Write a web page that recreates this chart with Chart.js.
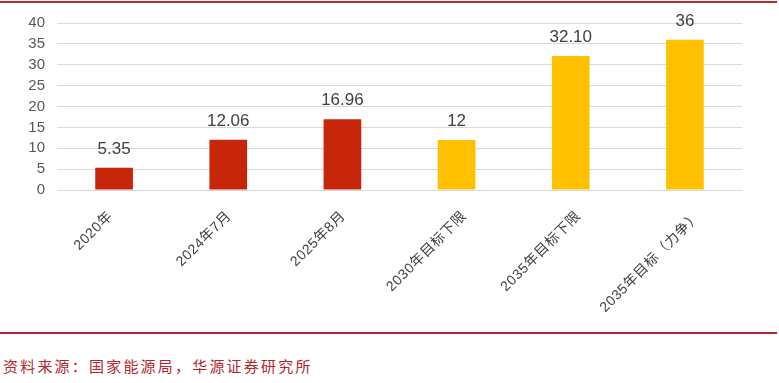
<!DOCTYPE html>
<html><head><meta charset="utf-8">
<script src="https://cdn.jsdelivr.net/npm/chart.js@4/dist/chart.umd.min.js"></script>
<style>
html,body{margin:0;padding:0;background:#fff;width:779px;height:383px;overflow:hidden;}
#wrap{position:absolute;left:0;top:0;width:779px;height:330px;}
#topline{position:absolute;left:0;top:1px;width:777px;height:2px;background:#b5252b;}
#botline{position:absolute;left:0;top:332px;width:777px;height:2px;background:#b5252b;}
#src{position:absolute;left:3px;top:355px;font-family:"Noto Sans CJK SC";font-size:15px;color:#b5252b;letter-spacing:2.2px;}
</style></head>
<body>
<div id="topline"></div>
<div id="wrap"><canvas id="c" width="779" height="330"></canvas></div>
<div id="botline"></div>
<div id="src">资料来源：国家能源局，华源证券研究所</div>
<script>
const categories = ["2020年","2024年7月","2025年8月","2030年目标下限","2035年目标下限","2035年目标（力争）"];
const values = [5.35, 12.06, 16.96, 12, 32.10, 36];
const valueLabels = ["5.35","12.06","16.96","12","32.10","36"];
const barColors = ["#c8260a","#c8260a","#c8260a","#ffc000","#ffc000","#ffc000"];
const yTicks = [0,5,10,15,20,25,30,35,40];

const dataLabelPlugin = {
  id:'dl',
  afterDatasetsDraw(chart){
    const ctx = chart.ctx;
    const meta = chart.getDatasetMeta(0);
    ctx.save();
    ctx.font = '17px "Liberation Sans", Arial, sans-serif';
    ctx.fillStyle = '#404040';
    ctx.textAlign = 'center';
    ctx.textBaseline = 'alphabetic';
    meta.data.forEach((bar,i)=>{
      ctx.fillText(valueLabels[i], bar.x, bar.y - 14);
    });
    ctx.restore();
  }
};

const xLabelPlugin = {
  id:'xl',
  afterDraw(chart){
    const ctx = chart.ctx;
    const xs = chart.scales.x;
    const baseY = chart.chartArea.bottom + 24;
    ctx.save();
    ctx.font = '14px "Liberation Sans","Noto Sans CJK SC",sans-serif';
    try{ ctx.letterSpacing = '0.6px'; }catch(e){}
    ctx.fillStyle = '#404040';
    ctx.textAlign = 'right';
    ctx.textBaseline = 'middle';
    categories.forEach((lab,i)=>{
      const cx = xs.getPixelForTick(i);
      const w = ctx.measureText(lab).width;
      const ax = cx + 0.196*w - 13;
      ctx.save();
      ctx.translate(ax, baseY);
      ctx.rotate(-Math.PI/4);
      ctx.fillText(lab, 0, 0);
      ctx.restore();
    });
    ctx.restore();
  }
};

new Chart(document.getElementById('c'), {
  type:'bar',
  data:{labels:categories, datasets:[{data:values, backgroundColor:barColors, categoryPercentage:1, barPercentage:0.33}]},
  options:{
    responsive:false, animation:false,
    layout:{padding:{top:23,right:37,left:0,bottom:0}},
    plugins:{legend:{display:false}, tooltip:{enabled:false}},
    scales:{
      x:{
        grid:{display:false},
        border:{display:true,color:'#d9d9d9',width:1},
        ticks:{display:false},
        afterFit(s){s.height=140;}
      },
      y:{
        min:0,max:40,
        afterBuildTicks(s){s.ticks=yTicks.map(v=>({value:v}));},
        grid:{color:'#d9d9d9',lineWidth:1,drawTicks:false},
        border:{display:false},
        ticks:{autoSkip:false,color:'#595959',font:{family:'"Liberation Sans",Arial,sans-serif',size:15},padding:12},
        afterFit(s){s.width=57;}
      }
    }
  },
  plugins:[dataLabelPlugin, xLabelPlugin]
});
</script>
</body></html>
